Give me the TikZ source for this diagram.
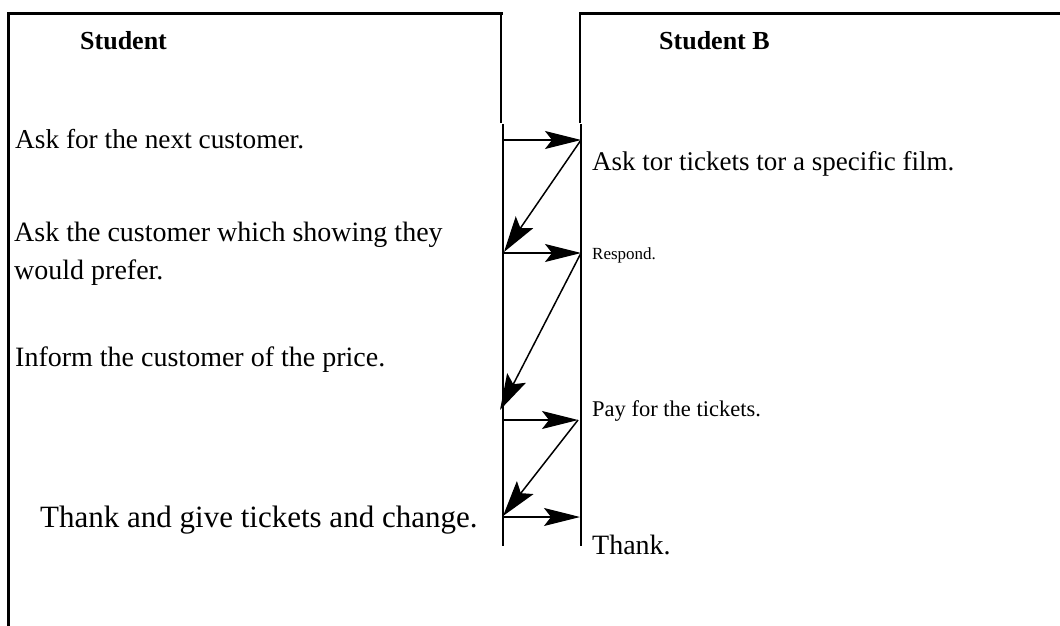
\documentclass[tikz,border=0pt]{standalone}
\usepackage{fontspec}
\setmainfont{Liberation Serif}
\usetikzlibrary{arrows.meta}
\begin{document}
\begin{tikzpicture}[x=1pt,y=-1pt,
  txt/.style={anchor=base west,inner sep=0pt,align=left},
  boxline/.style={line width=3pt,line cap=rect},
  sideline/.style={line width=2pt},
  harrow/.style={line width=1.1pt,-{Stealth[length=36pt,width=18pt,inset=7pt]}},
  darrow/.style={line width=1.5pt,-{Stealth[length=36pt,width=21pt,inset=7pt]}}]
\useasboundingbox (0,0) rectangle (1060,626);
% boxes
\draw[boxline] (8,626) -- (8,14) -- (501,14);
\draw[sideline] (501,14) -- (501,123);
\draw[boxline] (1062,14) -- (580,14);
\draw[sideline] (580,14) -- (580,123);
% column
\draw[sideline] (503,124) -- (503,546);
\draw[sideline] (581,124) -- (581,546);
% coordinates
\coordinate (a1) at (503,140);
\coordinate (b1) at (581,140);
\coordinate (a2) at (504,252);
\coordinate (b2) at (581,253);
\coordinate (a2s) at (503,253);
\coordinate (a3) at (500,410);
\coordinate (a3s) at (503,420);
\coordinate (b3) at (578,420);
\coordinate (a4) at (503,516);
\coordinate (a4s) at (503,517);
\coordinate (b4) at (580,517);
% arrows
\draw[harrow] (a1) -- (b1);
\draw[darrow] (b1) -- (a2);
\draw[harrow] (a2s) -- (b2);
\draw[darrow] (b2) -- (a3);
\draw[harrow] (a3s) -- (b3);
\draw[darrow] (b3) -- (a4);
\draw[harrow] (a4s) -- (b4);
% texts
\node[txt,font=\fontsize{26}{30}\selectfont\bfseries] (hA) at (80,50) {Student};
\node[txt,font=\fontsize{26}{30}\selectfont\bfseries] (hB) at (659,50) {Student B};
\node[txt,font=\fontsize{27.3}{31}\selectfont] (t1) at (15,148) {Ask for the next customer.};
\node[txt,font=\fontsize{28}{38}\selectfont] (t2) at (14,279) {Ask the customer which showing they\\would prefer.};
\node[txt,font=\fontsize{28}{32}\selectfont] (t3) at (15,366) {Inform the customer of the price.};
\node[txt,font=\fontsize{31}{35}\selectfont] (t4) at (40,527) {Thank and give tickets and change.};
\node[txt,font=\fontsize{27}{31}\selectfont] (s1) at (592,170) {Ask tor tickets tor a specific film.};
\node[txt,font=\fontsize{17}{21}\selectfont] (s2) at (592,259) {Respond.};
\node[txt,font=\fontsize{22.5}{26}\selectfont] (s3) at (592,416) {Pay for the tickets.};
\node[txt,font=\fontsize{28}{32}\selectfont] (s4) at (592,554) {Thank.};
\end{tikzpicture}
\end{document}
